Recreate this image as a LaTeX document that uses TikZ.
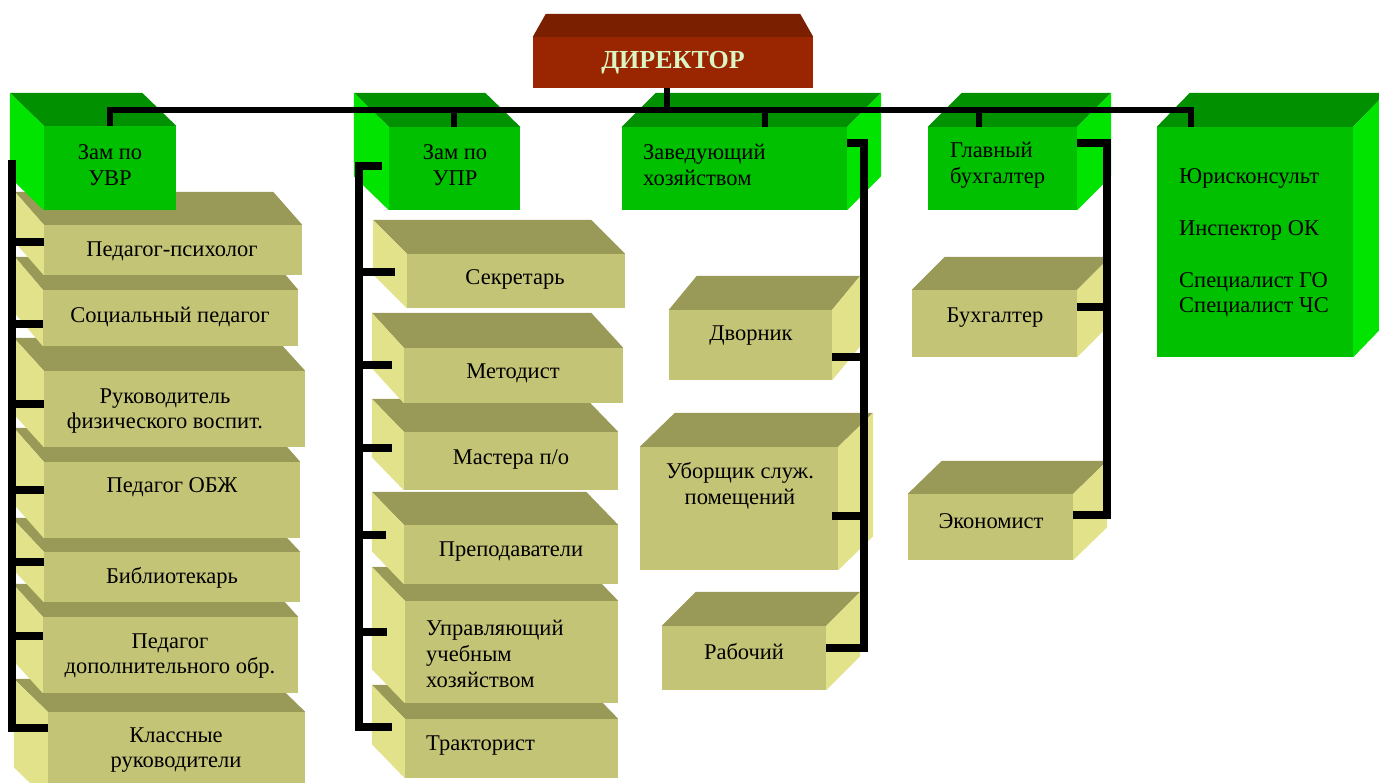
\documentclass[tikz,border=0pt]{standalone}
\usepackage{fontspec}
\setmainfont{Liberation Serif}

\definecolor{yellowfront}{HTML}{C4C477}
\definecolor{yellowtop}{HTML}{999958}
\definecolor{yellowside}{HTML}{E2E28B}
\definecolor{greenfront}{HTML}{00C000}
\definecolor{greentop}{HTML}{009000}
\definecolor{greenside}{HTML}{00E400}
\definecolor{dirfront}{HTML}{992600}
\definecolor{dirtop}{HTML}{7A1F00}
\definecolor{dirtext}{HTML}{DBF5C4}

% box seen from the front, depth to the upper left
\newcommand{\boxleft}[7]{%
  \node[front=#7, minimum width=#3pt, minimum height=#4pt] (#1) at #2 {};
  \fill[#7top] (#1.north west) -- ++(#5,#6) -- ([shift={(#5,#6)}]#1.north east) -- (#1.north east) -- cycle;
  \fill[#7side] (#1.north west) -- ++(#5,#6) -- ([shift={(#5,#6)}]#1.south west) -- (#1.south west) -- cycle;
}
% box seen from the front, depth to the upper right
\newcommand{\boxright}[7]{%
  \node[front=#7, minimum width=#3pt, minimum height=#4pt] (#1) at #2 {};
  \fill[#7top] (#1.north west) -- ++(#5,#6) -- ([shift={(#5,#6)}]#1.north east) -- (#1.north east) -- cycle;
  \fill[#7side] (#1.north east) -- ++(#5,#6) -- ([shift={(#5,#6)}]#1.south east) -- (#1.south east) -- cycle;
}

\begin{document}
\begin{tikzpicture}[x=1pt, y=-1pt,
  front/.style={fill=#1front, inner sep=0pt},
  txt/.style={inner sep=0pt, align=center, font=\fontsize{22.5}{25.8}\selectfont},
  link/.style={draw=black, line width=7.5pt},
  bus/.style={draw=black, line width=6pt}]
\useasboundingbox (0,0) rectangle (1379,783);
\fill[white] (0,0) rectangle (1379,783);

% UVR
\boxleft{kl}{(176.5,756)}{257}{88}{-34}{-33}{yellow}
\boxleft{pdo}{(170.5,655)}{255}{76}{-30}{-33}{yellow}
\boxleft{bibl}{(172,577)}{256}{50}{-32}{-34}{yellow}
\boxleft{obzh}{(172,500)}{256}{76}{-30}{-34}{yellow}
\boxleft{ruk}{(174.5,409)}{261}{76}{-30}{-33}{yellow}
\boxleft{soc}{(170.5,318)}{255}{56}{-28}{-33}{yellow}
\boxleft{psych}{(173,250)}{258}{50}{-29}{-33}{yellow}

% UPR
\boxleft{trakt}{(511.5,748.5)}{213}{59}{-33}{-34}{yellow}
\boxleft{uprh}{(511.5,652)}{213}{102}{-33}{-34}{yellow}
\boxleft{prep}{(511,554.5)}{214}{59}{-32}{-33}{yellow}
\boxleft{mast}{(511,461)}{214}{58}{-32}{-33}{yellow}
\boxleft{met}{(513.5,375.5)}{219}{55}{-32}{-35}{yellow}
\boxleft{sekr}{(516,281)}{218}{54}{-34}{-34}{yellow}

% hozyajstvo, buhgalterija
\boxright{dvor}{(750.5,345)}{163}{70}{28}{-34}{yellow}
\boxright{ubor}{(739,508.5)}{198}{123}{35}{-34}{yellow}
\boxright{rab}{(744,658)}{164}{64}{34}{-34}{yellow}
\boxright{buh}{(994.5,323.5)}{165}{67}{33}{-33}{yellow}
\boxright{ekon}{(990.5,527)}{165}{66}{34}{-33}{yellow}

% second level
\boxleft{uvr}{(110,168)}{132}{84}{-34}{-33}{green}
\boxleft{upr}{(454.5,168.5)}{131}{83}{-35}{-34}{green}
\boxright{zav}{(734.5,168.5)}{225}{83}{34}{-34}{green}
\boxright{gb}{(1002.5,168.5)}{149}{83}{34}{-34}{green}
\boxright{jur}{(1255,242)}{196}{230}{33}{-34}{green}

% director
\node[front=dir, minimum width=280pt, minimum height=51pt, text=dirtext,
  font=\bfseries\fontsize{26}{30}\selectfont] (dir) at (673,62.5) {ДИРЕКТОР};
\fill[dirtop] (dir.north west) -- ++(13,-23) -- ([shift={(-13,-23)}]dir.north east) -- (dir.north east) -- cycle;

\node[txt] (uvr-t) at (110,165) {Зам по\\УВР};
\node[txt] (upr-t) at (455,165) {Зам по\\УПР};
\node[txt, align=left, anchor=west] (zav-t) at (643,165) {Заведующий\\хозяйством};
\node[txt, align=left, anchor=west] (gb-t) at (950,165) {Главный\\бухгалтер};
\node[txt, align=left, anchor=west] (jur-t) at (1179,243) {Юрисконсульт\\[26pt]Инспектор ОК\\[26pt]Специалист ГО\\Специалист ЧС};

\node[txt] (psych-t) at (172,251) {Педагог-психолог};
\node[txt] (soc-t) at (170,317) {Социальный педагог};
\node[txt] (ruk-t) at (165,411) {Руководитель\\физического воспит.};
\node[txt] (obzh-t) at (172,487) {Педагог ОБЖ};
\node[txt] (bibl-t) at (172,578) {Библиотекарь};
\node[txt] (pdo-t) at (170,656) {Педагог\\дополнительного обр.};
\node[txt] (kl-t) at (176,750) {Классные\\руководители};

\node[txt] (sekr-t) at (515,279) {Секретарь};
\node[txt] (met-t) at (513,373) {Методист};
\node[txt] (mast-t) at (511,459) {Мастера п/о};
\node[txt] (prep-t) at (511,552) {Преподаватели};
\node[txt, align=left, anchor=west] (uprh-t) at (426,654) {Управляющий\\учебным\\хозяйством};
\node[txt, anchor=west] (trakt-t) at (426,746) {Тракторист};

\node[txt] (dvor-t) at (751,336) {Дворник};
\node[txt] (ubor-t) at (740,486) {Уборщик служ.\\помещений};
\node[txt] (rab-t) at (744,652) {Рабочий};
\node[txt] (buh-t) at (995,318) {Бухгалтер};
\node[txt] (ekon-t) at (991,521) {Экономист};

% top bus
\coordinate (bus0) at (667,110);
\coordinate (bus1) at (110,110);
\coordinate (bus2) at (454,110);
\coordinate (bus3) at (765,110);
\coordinate (bus4) at (979,110);
\coordinate (bus5) at (1191,110);
\path[draw,bus] (dir.south -| bus0) -- (bus0);
\path[draw,bus] (bus1 |- uvr.north) -- (bus1) -- (bus5) -- (bus5 |- jur.north);
\path[draw,bus] (bus2) -- (bus2 |- upr.north);
\path[draw,bus] (bus3) -- (bus3 |- zav.north);
\path[draw,bus] (bus4) -- (bus4 |- gb.north);

% UVR links
\coordinate (uvr0) at (12,160);
\coordinate (uvr1) at (12,242);
\coordinate (uvr2) at (12,324);
\coordinate (uvr3) at (12,404);
\coordinate (uvr4) at (12,490);
\coordinate (uvr5) at (12,562);
\coordinate (uvr6) at (12,636);
\coordinate (uvr7) at (12,728);
\path[draw,link] (uvr0) -- (uvr7) -- (uvr7 -| kl.west);
\path[draw,link] (uvr1) -- (uvr1 -| psych.west);
\path[draw,link] (uvr2) -- (uvr2 -| soc.west);
\path[draw,link] (uvr3) -- (uvr3 -| ruk.west);
\path[draw,link] (uvr4) -- (uvr4 -| obzh.west);
\path[draw,link] (uvr5) -- (uvr5 -| bibl.west);
\path[draw,link] (uvr6) -- (uvr6 -| pdo.west);

% UPR links
\coordinate (upr0) at (382,166);
\coordinate (upr1) at (359,166);
\coordinate (upr2) at (359,272);
\coordinate (upr3) at (359,365);
\coordinate (upr4) at (359,448);
\coordinate (upr5) at (359,535);
\coordinate (upr6) at (359,632);
\coordinate (upr7) at (359,727);
\path[draw,link,shorten >=13pt] (upr0) -- (upr1) -- (upr7) -- (upr7 -| trakt.west);
\path[draw,link,shorten >=12pt] (upr2) -- (upr2 -| sekr.west);
\path[draw,link,shorten >=12pt] (upr3) -- (upr3 -| met.west);
\path[draw,link,shorten >=12pt] (upr4) -- (upr4 -| mast.west);
\path[draw,link,shorten >=18pt] (upr5) -- (upr5 -| prep.west);
\path[draw,link,shorten >=18pt] (upr6) -- (upr6 -| uprh.west);

% zavhoz links
\coordinate (zav0) at (864,143);
\coordinate (zav1) at (864,357);
\coordinate (zav2) at (864,516);
\coordinate (zav3) at (864,648);
\path[draw,link] (zav0 -| zav.east) -- (zav0) -- (zav3) -- (zav3 -| rab.east);
\path[draw,link] (zav1) -- (zav1 -| dvor.east);
\path[draw,link,shorten >=-6pt] (zav2) -- (zav2 -| ubor.east);

% buhgalter links
\coordinate (gb0) at (1107,143);
\coordinate (gb1) at (1107,307);
\coordinate (gb2) at (1107,515);
\path[draw,link] (gb0 -| gb.east) -- (gb0) -- (gb2) -- (gb2 -| ekon.east);
\path[draw,link] (gb1) -- (gb1 -| buh.east);
\end{tikzpicture}
\end{document}
